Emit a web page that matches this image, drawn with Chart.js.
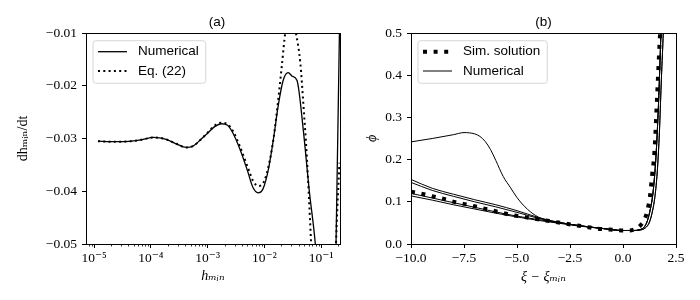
<!DOCTYPE html>
<html><head><meta charset="utf-8">
<script src="https://cdn.jsdelivr.net/npm/chart.js@4"></script>
<style>
html,body{margin:0;padding:0;background:#fff;}
#wrap{position:relative;width:700px;height:300px;background:#fff;}
canvas{position:absolute;top:0;}
</style>
</head><body>
<div id="wrap">
<canvas id="ca" width="350" height="300" style="left:0"></canvas>
<canvas id="cb" width="350" height="300" style="left:350px"></canvas>
</div>
<script>
// ---------- Panel (a) data ----------
const numH = [1.17e-5, 1.9e-5, 2.9e-5, 4.5e-5, 7.1e-5, 1.1e-4, 1.8e-4, 2.8e-4, 4.2e-4, 5.6e-4, 7.4e-4, 1.02e-3, 1.35e-3, 1.74e-3, 2.24e-3, 2.8e-3, 3.7e-3, 5.0e-3, 6.3e-3, 7.8e-3, 9.5e-3, 1.17e-2, 1.45e-2, 1.74e-2, 2.14e-2, 2.63e-2, 3.1e-2, 3.76e-2, 4.86e-2, 6.2e-2, 7.9e-2, 0.1, 0.15, 0.175, 0.183, 0.21, 0.214];
const numRate = [-0.0305, -0.0306, -0.0306, -0.0305, -0.0302, -0.0298, -0.0301, -0.0310, -0.0317, -0.0314, -0.0303, -0.0289, -0.0277, -0.0272, -0.0275, -0.0290, -0.0320, -0.0360, -0.0393, -0.0403, -0.0395, -0.0360, -0.0300, -0.0240, -0.0190, -0.0175, -0.0182, -0.0190, -0.0285, -0.0400, -0.0500, -0.065, -0.070, -0.060, -0.050, -0.010, -0.004];
const eqH = [1.17e-5, 1.9e-5, 2.9e-5, 4.5e-5, 7.1e-5, 1.1e-4, 1.8e-4, 2.8e-4, 4.2e-4, 5.6e-4, 7.4e-4, 1.02e-3, 1.35e-3, 1.74e-3, 2.24e-3, 2.8e-3, 3.7e-3, 5.0e-3, 6.3e-3, 7.8e-3, 9.5e-3, 1.17e-2, 1.45e-2, 1.74e-2, 2.04e-2, 2.33e-2, 2.9e-2, 3.6e-2, 4.3e-2, 4.9e-2, 5.6e-2, 6.6e-2, 8.0e-2, 0.12, 0.165, 0.183, 0.21];
const eqRate = [-0.0305, -0.0306, -0.0306, -0.0305, -0.0302, -0.0298, -0.0301, -0.0310, -0.0317, -0.0314, -0.0303, -0.0288, -0.0275, -0.0270, -0.0273, -0.0286, -0.0315, -0.0352, -0.0380, -0.0390, -0.0385, -0.0355, -0.0300, -0.0230, -0.0160, -0.0100, -0.0055, -0.0100, -0.0157, -0.0240, -0.0335, -0.0490, -0.070, -0.090, -0.070, -0.050, -0.0346];
const aXMajor = [1e-5, 1e-4, 1e-3, 1e-2, 1e-1];
const aXLabels = ['10\u207B\u2075', '10\u207B\u2074', '10\u207B\u00B3', '10\u207B\u00B2', '10\u207B\u00B9'];
const aXMinorMult = [2, 3, 4, 5, 6, 7, 8, 9];
const aYTicks = [-0.05, -0.04, -0.03, -0.02, -0.01];

// ---------- Panel (b) data ----------
const simXi = [-10, -9.4, -8.9, -8.4, -7.9, -7.4, -6.8, -6.3, -5.8, -5.3, -4.8, -4.3, -3.8, -3.3, -2.8, -2.3, -1.8, -1.3, -0.8, -0.3, 0.0, 0.3, 0.6, 0.8, 1.04, 1.15, 1.27, 1.38, 1.48, 1.53, 1.58, 1.63, 1.68, 1.73, 1.78];
const simPhi = [0.124, 0.118, 0.112, 0.106, 0.099, 0.094, 0.087, 0.081, 0.075, 0.069, 0.065, 0.061, 0.057, 0.053, 0.049, 0.045, 0.041, 0.037, 0.035, 0.033, 0.032, 0.032, 0.036, 0.043, 0.061, 0.080, 0.112, 0.167, 0.215, 0.262, 0.318, 0.373, 0.428, 0.48, 0.53];
const humpXi = [-10, -9, -8, -7.5, -7, -6.75, -6.5, -6.25, -6, -5.65, -5.3, -5, -4.5, -4, -3.5, -3, -2, -1, 0];
const humpPhi = [0.242, 0.250, 0.259, 0.264, 0.261, 0.255, 0.243, 0.224, 0.198, 0.160, 0.133, 0.110, 0.082, 0.064, 0.055, 0.051, 0.043, 0.037, 0.032];
const leftXi = [-10, -9, -8, -7, -6, -5, -4, -3, -2, -1, 0];
const numPhiA = [0.153, 0.132, 0.118, 0.105, 0.093, 0.079, 0.063, 0.051, 0.043, 0.037, 0.032];
const numPhiB = [0.146, 0.127, 0.113, 0.100, 0.088, 0.075, 0.061, 0.051, 0.043, 0.037, 0.032];
const numPhiC = [0.120, 0.109, 0.098, 0.087, 0.076, 0.066, 0.058, 0.050, 0.043, 0.037, 0.032];
const numPhiD = [0.114, 0.104, 0.093, 0.083, 0.073, 0.064, 0.056, 0.049, 0.042, 0.037, 0.032];
const rightXi1 = [0.5, 0.8, 1.0, 1.15, 1.3, 1.4, 1.5, 1.57, 1.62, 1.67, 1.71, 1.75, 1.79, 1.83];
const rightPhi1 = [0.032, 0.034, 0.040, 0.055, 0.085, 0.115, 0.167, 0.22, 0.27, 0.325, 0.38, 0.44, 0.50, 0.56];
const rightXi2 = [0.5, 0.8, 1.05, 1.25, 1.4, 1.5, 1.6, 1.68, 1.73, 1.77, 1.81, 1.86, 1.90, 1.94];
const rightPhi2 = [0.032, 0.033, 0.038, 0.052, 0.08, 0.11, 0.16, 0.225, 0.28, 0.335, 0.39, 0.45, 0.50, 0.56];
const bXTicks = [-10, -7.5, -5, -2.5, 0, 2.5];
const bYTicks = [0, 0.1, 0.2, 0.3, 0.4, 0.5];

// ---------- helpers ----------
const SERIF = '"Liberation Serif", "DejaVu Serif", serif';
const SANS = '"Liberation Sans", Arial, sans-serif';
const fmt = (v, d) => (v < -1e-12 ? '\u2212' : '') + Math.abs(v).toFixed(d);
const pts = (xs, ys) => xs.map((x, i) => ({x, y: ys[i]}));
const join = (xa, ya, xb, yb) => pts(xa.concat(xb), ya.concat(yb));

const decor = {
  id: 'decor',
  afterDatasetsDraw(chart, args, o) {
    const {ctx, chartArea: a} = chart;
    ctx.save();
    ctx.strokeStyle = '#000';
    if (o.minor) {
      const sx = chart.scales.x;
      ctx.lineWidth = 0.8;
      o.minor.forEach(v => {
        if (v < sx.min || v > sx.max) return;
        const px = Math.round(sx.getPixelForValue(v)) + 0.5;
        ctx.beginPath(); ctx.moveTo(px, a.bottom); ctx.lineTo(px, a.bottom + 2.5); ctx.stroke();
      });
    }
    ctx.lineWidth = 1;
    ctx.strokeRect(Math.round(a.left) + 0.5, Math.round(a.top) + 0.5, Math.round(a.right - a.left), Math.round(a.bottom - a.top));
    ctx.fillStyle = '#000';
    ctx.font = '13.5px ' + SANS;
    ctx.textAlign = 'center'; ctx.textBaseline = 'middle';
    ctx.fillText(o.title, (a.left + a.right) / 2 + (o.titleDx || 0), 22);
    // legend
    ctx.textAlign = 'left';
    const items = o.items.map(i => chart.data.datasets[i]);
    const tw = Math.max(...items.map(d => ctx.measureText(d.label).width));
    const x0 = a.left + 7, y0 = a.top + 7.7, w = 45 + tw + 7, h = 42.6;
    ctx.beginPath();
    ctx.roundRect(x0, y0, w, h, 3);
    ctx.fillStyle = 'rgba(255,255,255,0.8)'; ctx.fill();
    ctx.strokeStyle = 'rgba(204,204,204,0.8)'; ctx.lineWidth = 1; ctx.stroke();
    items.forEach((d, i) => {
      const cy = y0 + 11 + i * 19.3;
      ctx.beginPath();
      ctx.setLineDash(d.borderDash || []);
      ctx.lineWidth = d.borderWidth; ctx.strokeStyle = '#000';
      ctx.moveTo(x0 + 5, cy); ctx.lineTo(x0 + 34, cy); ctx.stroke();
      ctx.setLineDash([]);
      ctx.fillStyle = '#000';
      ctx.fillText(d.label, x0 + 45, cy);
    });
    ctx.restore();
  }
};

function line(label, data, width, dash) {
  return {label, data, showLine: true, borderColor: '#000', backgroundColor: '#000', borderWidth: width,
    borderDash: dash || [], pointRadius: 0, cubicInterpolationMode: 'monotone', clip: 0, fill: false};
}

function axis(cfg) {
  return Object.assign({
    grid: {display: true, drawOnChartArea: false, drawTicks: true, tickLength: 4, color: '#000', tickColor: '#000', lineWidth: 1},
    border: {display: false},
  }, cfg);
}

const tickFont = {family: SERIF, size: 13.5};
const titleFont = {family: SERIF, size: 14};

// ---------- Chart (a) ----------
const minorA = [];
[-6, -5, -4, -3, -2, -1].forEach(e => aXMinorMult.forEach(m => minorA.push(m * Math.pow(10, e))));

new Chart(document.getElementById('ca'), {
  type: 'scatter',
  data: {datasets: [
    line('Numerical', pts(numH, numRate), 1.3),
    line('Eq. (22)', pts(eqH, eqRate), 2, [2, 3.3]),
  ]},
  plugins: [decor],
  options: {
    responsive: false, animation: false, events: [],
    layout: {padding: {left: 0, right: 10, top: 33, bottom: 0}},
    plugins: {legend: {display: false}, tooltip: {enabled: false},
      decor: {title: '(a)', titleDx: 4, items: [0, 1], minor: minorA}},
    scales: {
      x: axis({type: 'logarithmic', min: 7.2e-6, max: 0.215,
        afterBuildTicks: s => { s.ticks = aXMajor.map(v => ({value: v, major: true})); },
        afterFit: s => { s.height = 56; },
        ticks: {autoSkip: false, maxRotation: 0, minRotation: 0, padding: 2, color: '#000', font: tickFont,
          callback: (v, i) => aXLabels[i]},
        title: {display: true, text: 'h\u2098\u1D62\u2099', color: '#000', font: Object.assign({style: 'italic'}, titleFont), padding: {top: 0, bottom: 15}}
      }),
      y: axis({type: 'linear', min: -0.05, max: -0.01,
        afterBuildTicks: s => { s.ticks = aYTicks.map(v => ({value: v})); },
        afterFit: s => { s.width = 86; },
        ticks: {padding: 5, color: '#000', font: tickFont, callback: v => fmt(v, 2)},
        title: {display: true, text: 'dh\u2098\u1D62\u2099/dt', color: '#000', font: titleFont, padding: {top: 15, bottom: 0}}
      })
    }
  }
});

// ---------- Chart (b) ----------
new Chart(document.getElementById('cb'), {
  type: 'scatter',
  data: {datasets: [
    line('Sim. solution', pts(simXi, simPhi), 4, [4, 6.6]),
    line('Numerical', join(humpXi, humpPhi, rightXi2, rightPhi2), 1),
    line('Numerical', join(leftXi, numPhiA, rightXi1, rightPhi1), 1),
    line('Numerical', join(leftXi, numPhiB, rightXi2, rightPhi2), 1),
    line('Numerical', join(leftXi, numPhiC, rightXi1, rightPhi1), 1),
    line('Numerical', join(leftXi, numPhiD, rightXi1, rightPhi1), 1),
  ]},
  plugins: [decor],
  options: {
    responsive: false, animation: false, events: [],
    layout: {padding: {left: 0, right: 24, top: 33, bottom: 0}},
    plugins: {legend: {display: false}, tooltip: {enabled: false},
      decor: {title: '(b)', items: [0, 1]}},
    scales: {
      x: axis({type: 'linear', min: -10, max: 2.5,
        afterBuildTicks: s => { s.ticks = bXTicks.map(v => ({value: v})); },
        afterFit: s => { s.height = 56; },
        ticks: {autoSkip: false, maxRotation: 0, minRotation: 0, padding: 2, color: '#000', font: tickFont, callback: v => fmt(v, 1)},
        title: {display: true, text: '\u03BE \u2212 \u03BE\u2098\u1D62\u2099', color: '#000', font: Object.assign({style: 'italic'}, titleFont), padding: {top: 0, bottom: 14}}
      }),
      y: axis({type: 'linear', min: 0, max: 0.5,
        afterBuildTicks: s => { s.ticks = bYTicks.map(v => ({value: v})); },
        afterFit: s => { s.width = 61; },
        ticks: {padding: 5, color: '#000', font: tickFont, callback: v => fmt(v, 1)},
        title: {display: true, text: '\u03D5', color: '#000', font: Object.assign({style: 'italic'}, titleFont), padding: {top: 13.6, bottom: 0}}
      })
    }
  }
});
</script>
</body></html>
